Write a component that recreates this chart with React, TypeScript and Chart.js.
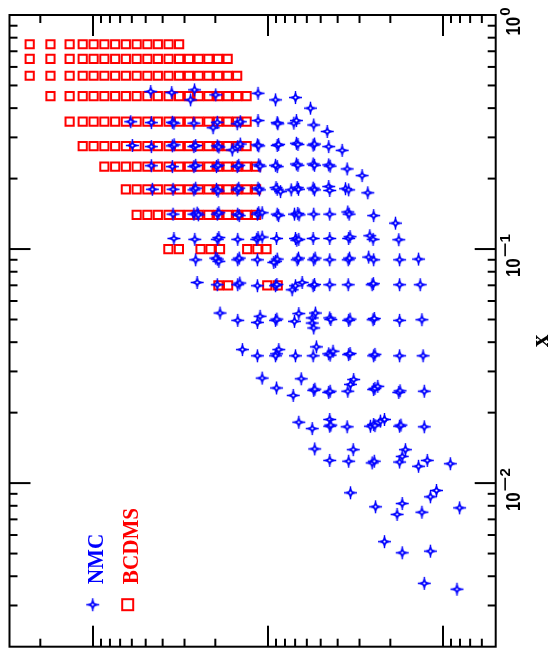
import { useEffect, useRef } from 'react';
import { Chart, registerables } from 'chart.js';

Chart.register(...registerables);

// ---- axis ranges ----
const Q2_MIN = 0.5;
const Q2_MAX = 300;
const X_MIN = 0.002;
const X_MAX = 1;

// ---- tick labels of the x axis (drawn as 10^exp) ----
const X_TICK_VALUES = [1, 0.1, 0.01];
const X_TICK_EXPONENTS = ['0', '−1', '−2'];
const AXIS_TITLE = 'x';

// ---- legend ----
const SERIES_NAMES = ['NMC', 'BCDMS'];
const SERIES_COLORS = ['#0000ff', '#ff0000'];

// ---- BCDMS: x bins and the Q² values measured in each bin ----
const BCDMS_X_BINS = [0.75, 0.65, 0.55, 0.45, 0.35, 0.275, 0.225, 0.18, 0.14, 0.1, 0.07];
const BCDMS_Q2_BY_BIN = [
  [230, 175, 136, 114.5, 99.2, 86.1, 74.7, 64.9, 56.3, 48.9, 42.6, 37.0, 32.2],
  [230, 175, 136, 114.5, 99.2, 86.1, 74.7, 64.9, 56.3, 48.9, 42.6, 37.0, 32.2, 28.3, 24.9, 21.9, 19.3, 17.0],
  [230, 175, 136, 114.5, 99.2, 86.1, 74.7, 64.9, 56.3, 48.9, 42.6, 37.0, 32.2, 28.3, 24.9, 21.9, 19.3, 17.0, 15.0],
  [175, 136, 114.5, 99.2, 86.1, 74.7, 64.9, 56.3, 48.9, 42.6, 37.0, 32.2, 28.3, 24.9, 21.9, 19.3, 17.0, 15.0, 13.25],
  [136, 114.5, 99.2, 86.1, 74.7, 64.9, 56.3, 48.9, 42.6, 37.0, 32.2, 28.3, 24.9, 21.9, 19.3, 17.0, 15.0, 13.25],
  [114.5, 99.2, 86.1, 74.7, 64.9, 56.3, 48.9, 42.6, 37.0, 32.2, 28.3, 24.9, 21.9, 19.3, 17.0, 15.0, 13.25],
  [86.1, 74.7, 64.9, 56.3, 48.9, 42.6, 37.0, 32.2, 28.3, 24.9, 21.9, 19.3, 17.0, 15.0, 13.25, 11.7],
  [64.9, 56.3, 48.9, 42.6, 37.0, 32.2, 28.3, 24.9, 21.9, 19.3, 17.0, 15.0, 13.25, 11.7],
  [56.3, 48.9, 42.6, 37.0, 32.2, 28.3, 24.9, 21.9, 19.3, 17.0, 15.0, 13.25, 11.7],
  [37.1, 32.3, 24.3, 21.3, 18.8, 13.15, 11.5, 10.2],
  [19.2, 16.9, 10.1, 8.8],
];

// ---- NMC: [Q², x] points, grouped by x row ----
const NMC_X045 = [[46.8, 0.471], [35.5, 0.466], [26.3, 0.479], [27.7, 0.434], [19.9, 0.456], [11.4, 0.463], [9.06, 0.434], [6.97, 0.444], [5.72, 0.4]];
const NMC_X035 = [[60.9, 0.35], [46.4, 0.347], [35.2, 0.348], [34.5, 0.345], [26.5, 0.345], [19.5, 0.348], [20.6, 0.33], [15.0, 0.343], [14.4, 0.35], [11.4, 0.354], [8.86, 0.347], [8.79, 0.343], [7.12, 0.345], [6.88, 0.354], [5.48, 0.339], [4.59, 0.318]];
const NMC_X0275 = [[59.6, 0.277], [46.4, 0.274], [35.2, 0.276], [34.4, 0.279], [26.5, 0.274], [25.9, 0.277], [19.5, 0.276], [19.1, 0.273], [16.0, 0.265], [14.9, 0.274], [14.4, 0.281], [11.5, 0.279], [11.3, 0.276], [8.86, 0.277], [8.7, 0.28], [6.88, 0.283], [6.75, 0.28], [5.52, 0.278], [5.42, 0.281], [4.5, 0.274], [3.77, 0.264]];
const NMC_X0225 = [[46.4, 0.227], [35.2, 0.225], [26.5, 0.225], [25.9, 0.228], [19.7, 0.225], [19.3, 0.228], [15.0, 0.225], [14.7, 0.228], [11.3, 0.229], [11.1, 0.226], [8.86, 0.225], [9.06, 0.228], [6.88, 0.231], [6.75, 0.228], [5.52, 0.231], [5.42, 0.228], [4.5, 0.229], [4.42, 0.226], [3.53, 0.22], [2.9, 0.206]];
const NMC_X018 = [[45.8, 0.18], [34.9, 0.18], [26.5, 0.179], [25.9, 0.182], [19.7, 0.18], [19.3, 0.177], [15.0, 0.179], [14.7, 0.182], [11.4, 0.182], [11.2, 0.179], [8.86, 0.18], [9.0, 0.183], [8.48, 0.176], [7.37, 0.179], [6.81, 0.183], [6.7, 0.18], [5.52, 0.182], [5.42, 0.179], [4.5, 0.185], [4.44, 0.178], [3.61, 0.181], [3.46, 0.179], [2.69, 0.174]];
const NMC_X014 = [[34.9, 0.141], [26.5, 0.141], [25.4, 0.1424], [25.0, 0.14], [19.5, 0.141], [19.1, 0.143], [14.9, 0.141], [14.6, 0.139], [11.5, 0.141], [11.3, 0.143], [10.8, 0.143], [8.86, 0.141], [8.7, 0.139], [7.06, 0.141], [6.76, 0.142], [6.65, 0.14], [5.48, 0.141], [4.44, 0.141], [3.5, 0.144], [3.44, 0.141], [2.49, 0.139], [1.87, 0.129]];
const NMC_X011 = [[34.5, 0.111], [26.2, 0.11], [19.5, 0.11], [19.1, 0.112], [14.9, 0.11], [11.6, 0.11], [11.4, 0.112], [10.8, 0.1125], [8.94, 0.111], [6.97, 0.111], [6.85, 0.109], [6.67, 0.11], [5.52, 0.111], [4.44, 0.111], [3.46, 0.111], [3.4, 0.113], [2.62, 0.114], [2.51, 0.11], [1.79, 0.1096]];
const NMC_X009 = [[25.9, 0.09], [19.5, 0.0906], [19.9, 0.0915], [19.1, 0.0886], [14.9, 0.09], [14.6, 0.0915], [11.5, 0.09], [9.06, 0.0886], [8.86, 0.0906], [9.27, 0.0877], [6.81, 0.09], [6.7, 0.0915], [5.48, 0.09], [5.38, 0.0915], [4.44, 0.09], [3.48, 0.09], [3.42, 0.0915], [2.66, 0.0924], [2.49, 0.09], [1.77, 0.09], [1.38, 0.0906]];
const NMC_X007 = [[25.4, 0.072], [19.5, 0.0704], [14.9, 0.0704], [14.5, 0.0716], [11.5, 0.0697], [9.06, 0.0697], [8.9, 0.0706], [7.28, 0.067], [6.97, 0.0697], [6.38, 0.072], [5.52, 0.0697], [5.42, 0.0706], [4.44, 0.0704], [3.48, 0.0704], [2.54, 0.0704], [2.5, 0.0712], [1.77, 0.0704], [1.35, 0.0704]];
const NMC_X005 = [[18.8, 0.0533], [14.9, 0.0496], [11.5, 0.0486], [11.1, 0.0516], [9.06, 0.0496], [8.9, 0.0502], [7.06, 0.0491], [6.67, 0.053], [5.59, 0.0508], [5.59, 0.0483], [5.48, 0.046], [5.36, 0.0533], [4.44, 0.0508], [4.38, 0.05], [3.46, 0.0496], [3.4, 0.0502], [2.51, 0.0499], [2.47, 0.0505], [1.77, 0.0496], [1.32, 0.0499]];
const NMC_X0035 = [[14.0, 0.0372], [11.5, 0.035], [8.94, 0.0357], [8.68, 0.0372], [9.06, 0.035], [6.97, 0.035], [5.52, 0.035], [5.29, 0.0382], [4.5, 0.0357], [4.42, 0.0352], [4.25, 0.0366], [3.46, 0.0354], [3.4, 0.0358], [2.49, 0.035], [2.45, 0.0355], [1.77, 0.035], [1.3, 0.035]];
const NMC_X0025 = [[10.8, 0.0281], [8.94, 0.0255], [7.18, 0.0237], [6.46, 0.0279], [5.48, 0.0249], [5.4, 0.0252], [4.5, 0.0244], [4.42, 0.0247], [3.5, 0.0247], [3.38, 0.0264], [3.24, 0.0277], [2.49, 0.0251], [2.45, 0.0254], [2.36, 0.0259], [1.79, 0.0244], [1.76, 0.0248], [1.28, 0.0247]];
const NMC_X00175 = [[6.67, 0.0182], [5.59, 0.0171], [4.44, 0.0187], [4.44, 0.0175], [4.38, 0.0177], [3.53, 0.0174], [2.6, 0.0175], [2.49, 0.0178], [2.45, 0.0176], [2.28, 0.0184], [2.16, 0.0187], [1.77, 0.0175], [1.74, 0.0177], [1.28, 0.0174]];
const NMC_X00125 = [[5.41, 0.014], [4.44, 0.0125], [3.46, 0.0124], [3.26, 0.0139], [2.54, 0.0122], [2.47, 0.0124], [1.77, 0.0123], [1.71, 0.013], [1.64, 0.0139], [1.38, 0.0118], [1.23, 0.0125], [0.908, 0.0121]];
const NMC_X0008 = [[3.38, 0.00909], [2.43, 0.00792], [1.83, 0.00735], [1.71, 0.00818], [1.32, 0.00751], [1.18, 0.00874], [1.09, 0.0093], [0.804, 0.00784]];
const NMC_X0005 = [[2.16, 0.00562], [1.71, 0.00504], [1.18, 0.00512]];
const NMC_X00035 = [[1.28, 0.00373], [0.832, 0.00352]];

const NMC_ROWS = [NMC_X045, NMC_X035, NMC_X0275, NMC_X0225, NMC_X018, NMC_X014, NMC_X011, NMC_X009, NMC_X007, NMC_X005, NMC_X0035, NMC_X0025, NMC_X00175, NMC_X00125, NMC_X0008, NMC_X0005, NMC_X00035];

function makeStar(color: string): HTMLCanvasElement {
  const c = document.createElement('canvas');
  c.width = 15;
  c.height = 15;
  const g = c.getContext('2d')!;
  const cx = 7.5, cy = 7.5, R = 6.5, r = 2.3;
  g.fillStyle = color;
  g.strokeStyle = color;
  // thin cross arms
  g.lineWidth = 1.4;
  g.beginPath();
  g.moveTo(cx, cy - R);
  g.lineTo(cx, cy + R);
  g.moveTo(cx - R, cy);
  g.lineTo(cx + R, cy);
  g.stroke();
  // concave four-point star body
  g.beginPath();
  for (let i = 0; i < 8; i++) {
    const ang = -Math.PI / 2 + (i * Math.PI) / 4;
    const rad = i % 2 === 0 ? R : r;
    g.lineTo(cx + rad * Math.cos(ang), cy + rad * Math.sin(ang));
  }
  g.closePath();
  g.fill();
  g.beginPath();
  g.arc(cx, cy, 2.6, 0, Math.PI * 2);
  g.fill();
  // hollow centre
  g.beginPath();
  g.arc(cx, cy, 1.1, 0, Math.PI * 2);
  g.fillStyle = '#ffffff';
  g.fill();
  return c;
}

function makeDecorPlugin(star: HTMLCanvasElement) {
  return {
    id: 'decor',
    afterDraw(chart: any) {
      const { ctx, chartArea: a, scales } = chart;
      const sq = scales.x;
      const sy = scales.y;
      ctx.save();
      ctx.strokeStyle = '#000';
      ctx.lineWidth = 2;
      ctx.lineCap = 'butt';
      ctx.strokeRect(a.left, a.top, a.right - a.left, a.bottom - a.top);

      const line = (x1: number, y1: number, x2: number, y2: number) => {
        ctx.beginPath();
        ctx.moveTo(x1, y1);
        ctx.lineTo(x2, y2);
        ctx.stroke();
      };
      // Q² ticks (inside, bottom and top)
      for (let e = -1; e <= 2; e++) {
        for (let m = 1; m <= 9; m++) {
          const v = m * Math.pow(10, e);
          if (v <= Q2_MIN * 1.0001 || v >= Q2_MAX * 0.9999) continue;
          const px = sq.getPixelForValue(v);
          const len = m === 1 ? 21 : 8;
          line(px, a.bottom, px, a.bottom - len);
          line(px, a.top, px, a.top + len);
        }
      }
      // x ticks (inside, left and right)
      for (let e = -3; e <= 0; e++) {
        for (let m = 1; m <= 9; m++) {
          const v = m * Math.pow(10, e);
          if (v <= X_MIN * 1.0001 || v >= X_MAX * 0.9999) continue;
          const py = sy.getPixelForValue(v);
          const len = m === 1 ? 21 : 8;
          line(a.left, py, a.left + len, py);
          line(a.right, py, a.right - len, py);
        }
      }

      // x tick labels 10^n, rotated
      ctx.fillStyle = '#000';
      X_TICK_VALUES.forEach((v, i) => {
        const py = sy.getPixelForValue(v);
        const exp = X_TICK_EXPONENTS[i];
        ctx.save();
        ctx.translate(a.right + 24.5, py);
        ctx.rotate(-Math.PI / 2);
        ctx.textAlign = 'left';
        ctx.textBaseline = 'alphabetic';
        ctx.font = 'bold 21px "Liberation Sans", Arial, sans-serif';
        const baseScale = 0.8;
        const baseW = ctx.measureText('10').width * baseScale;
        ctx.font = 'bold 15px "Liberation Sans", Arial, sans-serif';
        const parts = exp.split('');
        const widths = parts.map((ch) => ctx.measureText(ch).width * (ch === '−' ? 1.7 : 1));
        const supW = widths.reduce((s, w) => s + w, 0);
        const total = baseW + 1 + supW;
        let xs = -6.5 - total / 2;
        ctx.font = 'bold 21px "Liberation Sans", Arial, sans-serif';
        ctx.save();
        ctx.translate(xs, 0);
        ctx.scale(baseScale, 1);
        ctx.fillText('10', 0, 0);
        ctx.restore();
        xs += baseW + 1;
        ctx.font = 'bold 15px "Liberation Sans", Arial, sans-serif';
        parts.forEach((ch, k) => {
          ctx.save();
          ctx.translate(xs, -10);
          if (ch === '−') ctx.scale(1.7, 1);
          ctx.fillText(ch, 0, 0);
          ctx.restore();
          xs += widths[k];
        });
        ctx.restore();
      });

      // axis title
      ctx.save();
      ctx.translate(548, (a.top + a.bottom) / 2 + 10);
      ctx.rotate(-Math.PI / 2);
      ctx.textAlign = 'center';
      ctx.textBaseline = 'alphabetic';
      ctx.font = 'bold 25px "Liberation Serif", "Times New Roman", serif';
      ctx.fillText(AXIS_TITLE, 0, 0);
      ctx.restore();

      // legend
      const legendY = a.bottom - 42;
      ctx.drawImage(star, 92.7 - star.width / 2, legendY - star.height / 2);
      ctx.strokeStyle = SERIES_COLORS[1];
      ctx.lineWidth = 2;
      ctx.strokeRect(127.7 - 5.5, legendY - 5.5, 11, 11);
      const texts = [
        { t: SERIES_NAMES[0], x: 103.3, c: SERIES_COLORS[0] },
        { t: SERIES_NAMES[1], x: 137.7, c: SERIES_COLORS[1] },
      ];
      texts.forEach(({ t, x, c }) => {
        ctx.save();
        ctx.translate(x, legendY - 20.5);
        ctx.rotate(-Math.PI / 2);
        ctx.scale(0.88, 1);
        ctx.textAlign = 'left';
        ctx.textBaseline = 'alphabetic';
        ctx.font = 'bold 24px "Liberation Serif", "Times New Roman", serif';
        ctx.fillStyle = c;
        ctx.fillText(t, 0, 0);
        ctx.restore();
      });
      ctx.restore();
    },
  };
}

export default function App() {
  const ref = useRef<HTMLCanvasElement | null>(null);

  useEffect(() => {
    if (!ref.current) return;
    const star = makeStar(SERIES_COLORS[0]);
    const nmcData = NMC_ROWS.flatMap((row) => row.map(([q2, x]) => ({ x: q2, y: x })));
    const bcdmsData = BCDMS_X_BINS.flatMap((xb, i) => BCDMS_Q2_BY_BIN[i].map((q2) => ({ x: q2, y: xb })));

    const chart = new Chart(ref.current, {
      type: 'scatter',
      data: {
        datasets: [
          {
            label: SERIES_NAMES[0],
            data: nmcData,
            pointStyle: star as any,
            pointRadius: 6,
            borderColor: SERIES_COLORS[0],
            backgroundColor: SERIES_COLORS[0],
          },
          {
            label: SERIES_NAMES[1],
            data: bcdmsData,
            pointStyle: 'rect',
            pointRadius: 5.8,
            borderWidth: 2,
            borderColor: SERIES_COLORS[1],
            backgroundColor: 'rgba(0,0,0,0)',
          },
        ],
      },
      options: {
        responsive: false,
        animation: false,
        devicePixelRatio: 1,
        events: [],
        layout: { padding: { left: 9.5, top: 15, right: 0, bottom: 0 } },
        plugins: { legend: { display: false }, tooltip: { enabled: false } },
        scales: {
          x: {
            type: 'logarithmic',
            reverse: true,
            min: Q2_MIN,
            max: Q2_MAX,
            position: 'bottom',
            ticks: { display: false },
            grid: { display: false },
            border: { display: false },
            afterFit: (s: any) => {
              s.height = 19.3;
            },
          },
          y: {
            type: 'logarithmic',
            min: X_MIN,
            max: X_MAX,
            position: 'right',
            ticks: { display: false },
            grid: { display: false },
            border: { display: false },
            afterFit: (s: any) => {
              s.width = 55.3;
            },
          },
        },
      },
      plugins: [makeDecorPlugin(star)],
    } as any);
    return () => chart.destroy();
  }, []);

  return (
    <div style={{ position: 'absolute', left: 0, top: 0, width: 551, height: 666, background: '#fff' }}>
      <canvas ref={ref} width={551} height={666} style={{ display: 'block' }} />
    </div>
  );
}
